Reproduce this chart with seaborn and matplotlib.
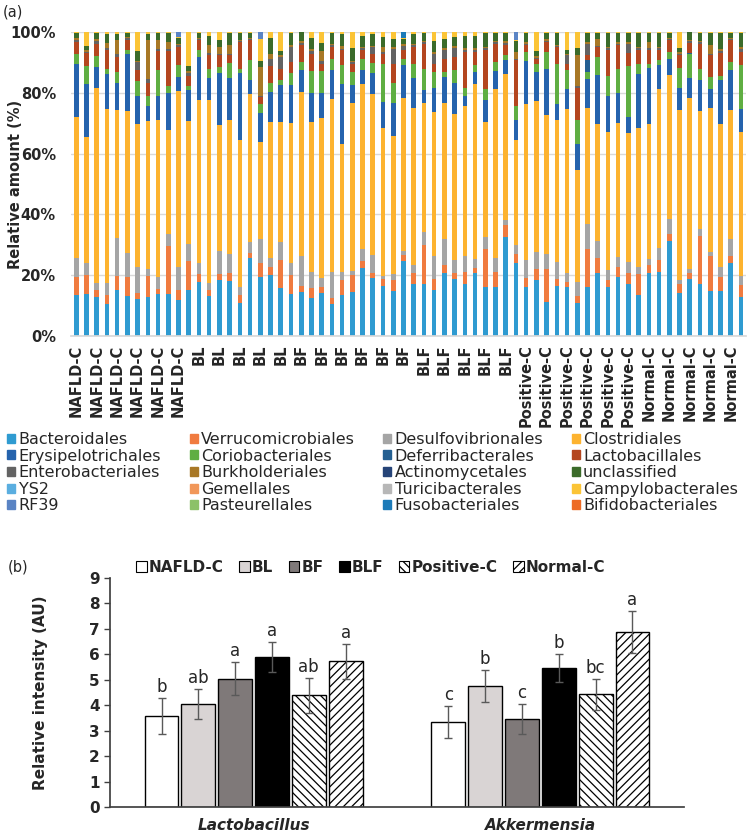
"""Gut microbiota composition (order level) and qPCR relative intensity."""

import matplotlib

matplotlib.use("Agg")

import matplotlib.patches as mpatches
import matplotlib.pyplot as plt
import numpy as np
import pandas as pd
import seaborn as sns

groups = ["NAFLD-C", "BL", "BF", "BLF", "Positive-C", "Normal-C"]
sample_groups = [g for g in groups for _ in range(11)]

orders = [
    "Bacteroidales", "Verrucomicrobiales", "Desulfovibrionales", "Clostridiales",
    "Erysipelotrichales", "Coriobacteriales", "Deferribacterales", "Lactobacillales",
    "Enterobacteriales", "Burkholderiales", "Actinomycetales", "unclassified",
    "YS2", "Gemellales", "Turicibacterales", "Campylobacterales",
    "RF39", "Pasteurellales", "Fusobacteriales", "Bifidobacteriales",
]
order_colors = [
    "#2f9bd1", "#f07b3f", "#a5a5a5", "#fdb32f",
    "#2563ad", "#5fae42", "#245f91", "#b4461f",
    "#636363", "#a87826", "#264478", "#3b6b2a",
    "#5aaee0", "#f1975a", "#b7b7b7", "#fbc436",
    "#5a84c4", "#8cc168", "#1c7ab8", "#ed6b25",
]

# relative amount (%) per sample, 11 samples per group
bacteroidales = [13.5, 13.8, 12.9, 10.5, 15.3, 13.3, 12.2, 12.7, 13.8, 13.8, 12.0,
                 15.3, 17.9, 13.3, 18.4, 18.1, 10.7, 25.8, 19.3, 20.0, 15.7, 13.8,
                 14.5, 12.6, 14.2, 10.4, 13.6, 14.6, 22.5, 19.2, 16.4, 14.9, 24.6,
                 17.0, 17.0, 15.3, 20.8, 18.6, 17.0, 20.6, 16.2, 16.2, 32.5, 23.9,
                 16.2, 18.4, 11.3, 16.5, 16.2, 11.0, 16.0, 20.8, 16.0, 19.5, 17.1,
                 13.6, 20.8, 21.1, 31.3, 14.0, 18.7, 17.1, 14.9, 14.9, 23.9, 12.7]
verrucomicrobiales = [6.0, 6.2, 2.2, 3.0, 4.4, 6.2, 1.8, 7.0, 1.8, 15.8, 3.1,
                      9.3, 2.5, 1.8, 2.0, 2.7, 2.8, 1.4, 4.6, 2.6, 9.3, 6.2,
                      2.0, 3.3, 1.8, 2.2, 4.8, 5.4, 2.3, 1.6, 2.2, 3.5, 2.0,
                      3.6, 12.9, 3.3, 2.5, 2.2, 4.1, 1.9, 12.3, 4.9, 4.1, 3.0,
                      3.0, 3.8, 10.6, 2.1, 1.7, 2.3, 12.5, 4.7, 2.4, 3.3, 3.5,
                      6.8, 2.5, 3.9, 2.4, 3.0, 2.1, 15.8, 11.4, 4.6, 2.4, 4.1]
desulfovibrionales = [6.2, 4.0, 2.2, 3.8, 12.4, 7.9, 8.6, 2.4, 3.7, 3.9, 7.7,
                      5.8, 3.5, 2.2, 7.6, 6.1, 2.5, 3.8, 7.9, 3.1, 5.9, 4.0,
                      9.8, 5.2, 3.2, 8.5, 2.7, 1.5, 3.7, 5.8, 1.1, 2.0, 1.4,
                      2.7, 4.2, 7.8, 8.6, 4.2, 5.2, 2.9, 4.1, 4.6, 1.5, 3.2,
                      5.8, 5.5, 5.0, 5.8, 2.9, 4.6, 8.3, 5.8, 3.3, 3.3, 3.7,
                      2.4, 2.1, 3.8, 4.9, 1.4, 1.1, 2.4, 1.3, 3.1, 5.6, 2.9]
clostridiales = [46.4, 41.5, 64.4, 57.5, 42.2, 46.6, 47.1, 48.7, 51.9, 34.2, 57.8,
                 40.4, 53.9, 60.5, 41.3, 44.3, 48.6, 48.7, 32.1, 44.7, 39.5, 46.1,
                 54.0, 49.2, 52.5, 56.9, 42.2, 55.2, 54.5, 52.9, 48.8, 45.3, 50.3,
                 51.8, 42.6, 47.3, 44.9, 48.1, 49.3, 57.6, 37.8, 55.7, 48.0, 34.5,
                 51.2, 49.5, 45.7, 46.6, 54.0, 36.6, 38.3, 38.6, 45.4, 44.1, 42.5,
                 45.8, 44.3, 52.4, 47.3, 56.1, 56.4, 38.7, 47.5, 47.0, 42.4, 47.3]
erysipelotrichales = [17.3, 17.5, 6.8, 11.3, 8.9, 18.7, 9.2, 5.0, 7.7, 12.3, 4.6,
                      10.0, 14.0, 7.1, 17.2, 13.7, 21.9, 4.4, 9.5, 9.9, 12.1, 12.4,
                      7.3, 9.7, 8.3, 9.4, 19.5, 5.8, 4.6, 7.1, 8.5, 10.8, 10.7,
                      9.8, 4.3, 8.0, 8.4, 10.1, 3.3, 3.9, 7.4, 5.8, 4.6, 6.6,
                      14.3, 9.7, 15.3, 5.2, 6.6, 8.6, 9.6, 16.1, 11.8, 9.8, 5.3,
                      17.5, 18.5, 8.1, 5.3, 7.1, 6.6, 10.1, 6.3, 14.7, 13.1, 7.8]
coriobacteriales = [3.5, 5.7, 3.5, 1.9, 3.7, 1.3, 4.9, 3.1, 8.7, 2.1, 3.8,
                    1.3, 2.2, 3.1, 2.0, 4.9, 1.5, 6.6, 2.8, 2.9, 1.8, 4.0,
                    2.4, 7.1, 7.1, 3.7, 6.2, 4.4, 3.4, 3.2, 12.6, 6.7, 2.2,
                    4.5, 6.7, 5.2, 1.7, 4.2, 2.8, 2.1, 3.6, 2.9, 1.6, 4.6,
                    2.8, 2.7, 5.7, 13.4, 6.0, 8.1, 2.2, 5.8, 6.5, 8.0, 16.7,
                    3.3, 1.4, 1.4, 2.2, 6.6, 8.0, 3.9, 3.8, 1.1, 2.6, 14.2]
lactobacillales = [3.8, 4.3, 4.2, 6.0, 4.9, 3.5, 3.6, 4.3, 6.2, 11.7, 6.0,
                   3.3, 3.3, 4.3, 3.8, 2.5, 8.7, 6.6, 2.4, 5.5, 3.7, 3.6,
                   5.6, 5.8, 2.5, 3.9, 5.0, 2.7, 3.0, 3.1, 3.3, 6.2, 2.8,
                   5.6, 8.5, 2.7, 4.3, 4.4, 11.7, 4.4, 12.6, 6.1, 3.6, 14.9,
                   2.3, 1.4, 3.1, 5.4, 2.2, 10.4, 1.6, 3.2, 8.6, 7.6, 4.3,
                   4.6, 4.4, 3.3, 3.9, 4.1, 3.3, 8.2, 7.1, 7.7, 7.3, 4.4]
enterobacteriales = [0.6, 0.4, 1.0, 0.8, 1.0, 0.5, 2.7, 1.5, 0.5, 0.6, 0.8,
                     1.2, 0.5, 0.8, 0.6, 0.6, 0.4, 0.4, 0.5, 2.5, 3.8, 4.9,
                     0.5, 0.8, 1.0, 0.6, 0.5, 0.5, 0.6, 2.1, 0.6, 5.1, 1.5,
                     0.6, 0.5, 3.3, 2.8, 3.1, 0.6, 0.6, 0.6, 0.5, 0.6, 0.4,
                     0.5, 0.5, 0.5, 0.5, 2.7, 0.6, 3.9, 0.5, 0.6, 0.5, 3.1,
                     0.6, 0.6, 0.6, 0.4, 0.6, 0.5, 0.5, 0.6, 0.6, 0.4, 1.0]
burkholderiales = [0.6, 0.6, 0.6, 1.6, 4.6, 0.4, 0.4, 12.6, 3.0, 2.3, 0.4,
                   0.5, 0.3, 2.5, 2.1, 3.0, 0.3, 0.3, 9.3, 1.7, 0.7, 0.6,
                   0.5, 0.8, 3.3, 0.6, 0.8, 0.5, 0.5, 0.5, 1.6, 0.6, 0.6,
                   0.6, 0.4, 0.6, 0.6, 0.6, 0.6, 0.6, 0.6, 0.4, 0.4, 2.2,
                   0.5, 0.5, 0.4, 0.4, 0.5, 10.4, 0.5, 2.3, 0.5, 0.5, 0.4,
                   0.6, 2.2, 0.6, 0.3, 0.5, 0.4, 0.4, 2.7, 0.6, 0.3, 0.6]
unclassified = [1.7, 1.4, 1.8, 3.0, 2.1, 1.4, 3.2, 2.2, 2.4, 3.0, 1.9,
                1.7, 1.6, 3.0, 2.4, 3.7, 2.4, 1.8, 2.2, 5.0, 1.4, 4.0,
                3.2, 3.7, 2.6, 3.4, 4.2, 4.2, 3.7, 3.9, 3.2, 2.6, 1.6,
                3.2, 2.5, 3.7, 3.1, 2.8, 4.2, 4.2, 4.4, 2.5, 2.7, 3.7,
                3.0, 1.7, 2.0, 3.7, 1.4, 2.0, 3.1, 2.0, 4.5, 3.0, 3.0,
                4.4, 2.8, 4.4, 1.8, 1.4, 2.7, 2.7, 4.0, 5.3, 1.8, 4.6]
campylobacterales = [0.4, 4.6, 0.4, 0.6, 0.5, 0.2, 6.3, 0.5, 0.3, 0.3, 0.3,
                     11.2, 0.3, 1.4, 2.6, 0.4, 0.2, 0.2, 7.2, 2.1, 6.1, 0.4,
                     0.2, 1.8, 3.5, 0.4, 0.5, 5.2, 1.2, 0.6, 1.7, 2.3, 0.4,
                     0.6, 0.4, 2.8, 2.3, 1.7, 1.2, 1.2, 0.4, 0.4, 0.4, 0.4,
                     0.4, 6.3, 0.4, 0.4, 5.8, 5.4, 0.2, 0.2, 0.4, 0.4, 0.4,
                     0.4, 0.4, 0.4, 0.2, 5.2, 0.2, 0.2, 0.4, 0.4, 0.2, 0.4]
# minor orders: sample index -> relative amount (%)
deferribacterales = {50: 3.8, 22: 0.3, 60: 0.3}
rf39 = {10: 1.6, 18: 2.2, 43: 2.6}
fusobacteriales = {32: 1.9}

# panel (b): qPCR relative intensity
genera = ["Lactobacillus", "Akkermensia"]
lactobacillus_mean = [3.58, 4.05, 5.04, 5.89, 4.39, 5.72]
lactobacillus_err = [0.72, 0.58, 0.64, 0.58, 0.69, 0.69]
lactobacillus_sig = ["b", "ab", "a", "a", "ab", "a"]
akkermensia_mean = [3.34, 4.75, 3.46, 5.46, 4.43, 6.88]
akkermensia_err = [0.62, 0.63, 0.59, 0.56, 0.60, 0.83]
akkermensia_sig = ["c", "b", "c", "b", "bc", "a"]
group_faces = ["white", "#d9d4d4", "#7f7979", "black", "white", "white"]
group_hatches = ["", "", "", "", "\\\\\\\\", "////"]

sns.set_theme(style="white")
plt.rcParams["font.family"] = ["DejaVu Sans"]
plt.rcParams["hatch.linewidth"] = 0.9

series = {
    "Bacteroidales": bacteroidales,
    "Verrucomicrobiales": verrucomicrobiales,
    "Desulfovibrionales": desulfovibrionales,
    "Clostridiales": clostridiales,
    "Erysipelotrichales": erysipelotrichales,
    "Coriobacteriales": coriobacteriales,
    "Lactobacillales": lactobacillales,
    "Enterobacteriales": enterobacteriales,
    "Burkholderiales": burkholderiales,
    "unclassified": unclassified,
    "Campylobacterales": campylobacterales,
}
composition = pd.DataFrame(0.0, index=range(len(sample_groups)), columns=orders)
for name, values in series.items():
    composition[name] = values
for name, sparse in [("Deferribacterales", deferribacterales), ("RF39", rf39),
                     ("Fusobacteriales", fusobacteriales)]:
    for idx, val in sparse.items():
        composition.loc[idx, name] = val

fig = plt.figure(figsize=(7.49, 8.35), dpi=100)

# ---- panel (a)
ax = fig.add_axes([0.095, 0.5976, 0.901, 0.364])
composition.plot.bar(stacked=True, ax=ax, width=0.45, color=order_colors,
                     legend=False, linewidth=0)
ax.set_xlim(-0.5, len(sample_groups) - 0.5)
ax.set_ylim(0, 100)
ax.set_yticks(range(0, 101, 20))
ax.set_yticklabels([f"{v}%" for v in range(0, 101, 20)], fontsize=10.5,
                   fontweight="bold")
ax.set_xticks(range(0, len(sample_groups), 2))
ax.set_xticklabels(sample_groups[::2], rotation=90, fontsize=10.5,
                   fontweight="bold")
ax.tick_params(axis="x", length=0, pad=6)
ax.tick_params(axis="y", length=0, pad=11)
ax.yaxis.grid(True, color="#d9d9d9", linewidth=1)
ax.set_axisbelow(True)
for side in ["top", "right", "left"]:
    ax.spines[side].set_visible(False)
ax.spines["bottom"].set_color("#d9d9d9")
ax.set_xlabel("")
ax.set_ylabel("Relative amount (%)", fontsize=10.5, fontweight="bold")
ax.yaxis.set_label_coords(-0.072, 0.5)

handles = [mpatches.Patch(color=c) for c in order_colors]
n_rows, n_cols = 5, 4
perm = [r * n_cols + c for c in range(n_cols) for r in range(n_rows)]
fig.legend([handles[i] for i in perm], [orders[i] for i in perm], ncol=n_cols,
           loc="upper left", bbox_to_anchor=(0.01, 0.0, 0.975, 1 - 432 / 835),
           bbox_transform=fig.transFigure, mode="expand", frameon=False,
           fontsize=11.5, handlelength=0.5, handleheight=0.5,
           handletextpad=0.2, labelspacing=0.1, borderaxespad=0.0,
           borderpad=0.0)
fig.text(0.004, 1 - 12 / 835, "(a)", fontsize=10.5, va="center")

# ---- panel (b)
ax2 = fig.add_axes([0.147, 0.0335, 0.766, 0.2743])
intensity = pd.DataFrame({
    "genus": np.repeat(genera, len(groups)),
    "group": groups * len(genera),
    "value": lactobacillus_mean + akkermensia_mean,
})
sns.barplot(data=intensity, x="genus", y="value", hue="group", order=genera,
            hue_order=groups, palette=dict(zip(groups, group_faces)),
            saturation=1, errorbar=None, width=0.77, gap=0.08,
            edgecolor="black", linewidth=1, legend=False, ax=ax2)

errs = [lactobacillus_err, akkermensia_err]
means = [lactobacillus_mean, akkermensia_mean]
sigs = [lactobacillus_sig, akkermensia_sig]
bar_containers = list(ax2.containers)
for k, container in enumerate(bar_containers):
    for j, patch in enumerate(container.patches):
        patch.set_hatch(group_hatches[k])
        patch.set_edgecolor("black")
        xc = patch.get_x() + patch.get_width() / 2
        ax2.errorbar(xc, means[j][k], yerr=errs[j][k], fmt="none",
                     ecolor="#595959", elinewidth=1, capsize=3, capthick=1)
        ax2.text(xc, means[j][k] + errs[j][k] + 0.08, sigs[j][k],
                 ha="center", va="bottom", fontsize=12)

ax2.set_xlim(-0.5, 1.5)
ax2.set_ylim(0, 9)
ax2.set_yticks(range(0, 10))
ax2.set_yticklabels([str(v) for v in range(0, 10)], fontsize=11,
                    fontweight="bold")
ax2.set_xticks(range(len(genera)))
ax2.set_xticklabels(genera, fontsize=11, fontweight="bold", fontstyle="italic")
ax2.tick_params(axis="x", length=0, pad=8)
ax2.tick_params(axis="y", length=4, width=1, color="#404040", left=True)
for side in ["top", "right"]:
    ax2.spines[side].set_visible(False)
for side in ["left", "bottom"]:
    ax2.spines[side].set_color("#404040")
ax2.set_xlabel("")
ax2.set_ylabel("Relative intensity (AU)", fontsize=11, fontweight="bold")
ax2.yaxis.set_label_coords(-0.108, 0.5)

group_handles = [
    mpatches.Patch(facecolor=f, edgecolor="black", hatch=h, linewidth=0.8)
    for f, h in zip(group_faces, group_hatches)
]
fig.legend(group_handles, groups, ncol=len(groups), loc="center",
           bbox_to_anchor=(0.495, 1 - 567 / 835), frameon=False,
           prop={"size": 11, "weight": "bold"}, handlelength=0.7,
           handleheight=0.7, handletextpad=0.15, columnspacing=1.0)
fig.text(0.01, 1 - 567 / 835, "(b)", fontsize=10.5, va="center")

fig.savefig("out.png", dpi=100)
plt.close(fig)
